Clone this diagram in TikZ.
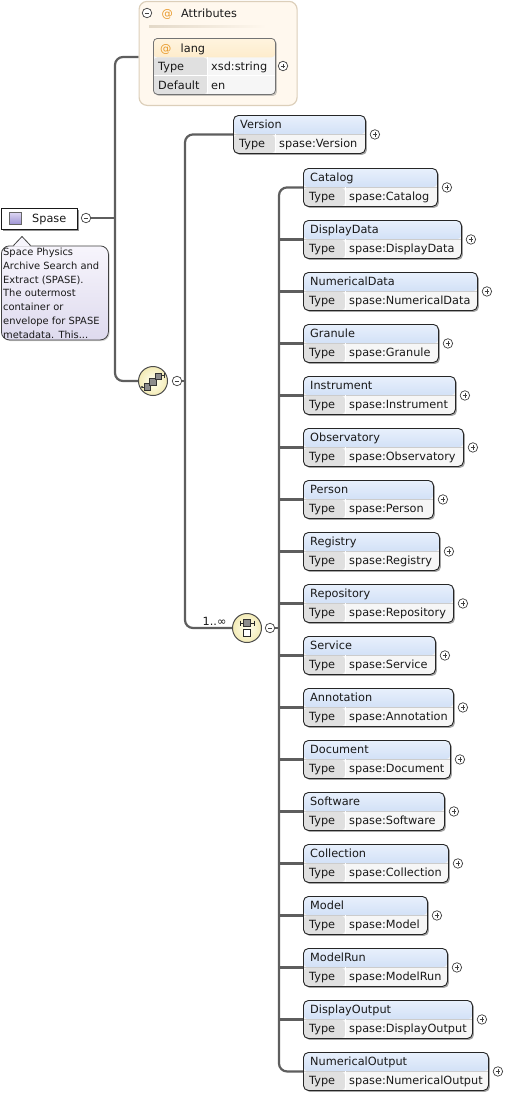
\documentclass[tikz,border=0pt]{standalone}
\usepackage{fontspec}
\setmainfont{DejaVu Sans}
\usetikzlibrary{shadows,calc}
\pgfdeclarelayer{background}
\pgfsetlayers{background,main}
\definecolor{hdrtop}{HTML}{E8F0FC}
\definecolor{hdrbot}{HTML}{BCD1F1}
\definecolor{typecell}{HTML}{E0E0E0}
\definecolor{valcell}{HTML}{F6F6F6}
\definecolor{conncol}{HTML}{5E5E5E}
\definecolor{attrfill}{HTML}{FFF8EE}
\definecolor{attrborder}{HTML}{DCCFBA}
\definecolor{langtop}{HTML}{FFF4DF}
\definecolor{langbot}{HTML}{FADCA4}
\definecolor{atsign}{HTML}{E89A2C}
\definecolor{anntop}{HTML}{F7F5FC}
\definecolor{annbot}{HTML}{DEDAEE}
\definecolor{icontop}{HTML}{DCD5F2}
\definecolor{iconbot}{HTML}{9C92D2}
\definecolor{cmptop}{HTML}{FFFFF2}
\definecolor{cmpbot}{HTML}{F3EBB5}
\begin{document}
\begin{tikzpicture}[x=1pt,y=-1pt,
  font=\fontsize{11.3pt}{13pt}\selectfont,
  conn/.style={draw=conncol, line width=2.2pt},
  txt/.style={anchor=base west, inner sep=0pt, text=black!90},
  elbox/.style={draw=black!85, line width=0.9pt, rounded corners=5pt, anchor=north west,
    minimum height=38pt, inner sep=0pt, fill=valcell,
    drop shadow={shadow xshift=1.5pt, shadow yshift=-1.5pt, opacity=0.5, fill=black!70},
    path picture={
      \shade[top color=hdrtop, bottom color=hdrbot] (path picture bounding box.north west) rectangle (path picture bounding box.east);
      \fill[typecell] (path picture bounding box.west) rectangle ([xshift=42pt]path picture bounding box.south west);
      \draw[black!20, line width=0.6pt] (path picture bounding box.west) -- (path picture bounding box.east);
      \draw[white, line width=0.8pt] ([xshift=42pt]path picture bounding box.west) -- ([xshift=42pt]path picture bounding box.south west);
    }},
  langbox/.style={draw=black!55, line width=0.8pt, rounded corners=4pt, anchor=north west,
    minimum width=122pt, minimum height=56pt, inner sep=0pt, fill=valcell,
    drop shadow={shadow xshift=1.5pt, shadow yshift=-1.5pt, opacity=0.35, fill=black!60},
    path picture={
      \shade[top color=langtop, bottom color=langbot] (path picture bounding box.north west) rectangle ([yshift=-19pt]path picture bounding box.north east);
      \fill[typecell] ([yshift=-19pt]path picture bounding box.north west) rectangle ([xshift=54pt]path picture bounding box.south west);
      \draw[white, line width=0.9pt] ([yshift=-37.5pt]path picture bounding box.north west) -- ([yshift=-37.5pt]path picture bounding box.north east);
      \draw[white, line width=0.9pt] ([xshift=54pt,yshift=-19pt]path picture bounding box.north west) -- ([xshift=54pt]path picture bounding box.south west);
    }},
  btn/.style={circle, draw=black!75, fill=white, minimum size=9.5pt, inner sep=0pt, line width=0.7pt},
  plusbtn/.style={btn, path picture={
      \draw[line width=0.7pt] ([xshift=-2.4pt]path picture bounding box.center) -- ([xshift=2.4pt]path picture bounding box.center);
      \draw[line width=0.7pt] ([yshift=-2.4pt]path picture bounding box.center) -- ([yshift=2.4pt]path picture bounding box.center);}},
  minusbtn/.style={btn, path picture={
      \draw[line width=0.7pt] ([xshift=-2.4pt]path picture bounding box.center) -- ([xshift=2.4pt]path picture bounding box.center);}},
  cmpicon/.style={circle, minimum size=29pt, inner sep=0pt, draw=black!70, line width=1pt,
    inner color=cmptop, outer color=cmpbot},
  atsym/.style={txt, text=atsign}
]
\useasboundingbox (0,0) rectangle (505,1095);

% ---------- Attributes ----------
\node[draw=attrborder, fill=attrfill, rounded corners=8pt, line width=1.2pt, anchor=north west,
  minimum width=158pt, minimum height=104pt, inner sep=0pt] (attrs) at (138.5,0.8) {};
\node[minusbtn] (attrmin) at (147,13) {};
\node[atsym] (attrat) at (161.5,17.5) {@};
\node[txt] (attrlbl) at (181,17.5) {Attributes};
\shade[left color=attrborder!80, right color=attrfill] (149,25) rectangle (266,27.5);
\node[langbox] (lang) at (153,38) {};
\node[atsym] (langat) at (160,52) {@};
\node[txt] (langlbl) at (180.5,52) {lang};
\node[txt] at (158,70.5) {Type};
\node[txt] at (211,70.5) {xsd:string};
\node[txt] at (158,89) {Default};
\node[txt] at (211,89) {en};
\node[plusbtn] (langplus) at (283,66) {};
\coordinate (attrin) at (138.5,57);

% ---------- Spase ----------
\node[draw=black!90, fill=white, line width=0.9pt, anchor=north west, minimum width=76pt,
  minimum height=21pt, inner sep=0pt,
  drop shadow={shadow xshift=1.8pt, shadow yshift=-1.8pt, opacity=0.6, fill=black!70}] (spase) at (1,208) {};
\node[draw=black!60, line width=0.6pt, top color=icontop, bottom color=iconbot, minimum size=12pt, inner sep=0pt] (spicon) at (15.5,218.5) {};
\node[txt] (splbl) at (32,222.5) {Spase};
\node[minusbtn] (spmin) at (86,218) {};

% annotation
\node[draw=black!75, line width=0.8pt, rounded corners=8pt, top color=anntop, bottom color=annbot,
  anchor=north west, minimum width=107pt, minimum height=94pt, inner sep=0pt,
  drop shadow={shadow xshift=1.2pt, shadow yshift=-1.2pt, opacity=0.3, fill=black!60}] (ann) at (1,245.5) {};
\fill[anntop] (13.5,246.6) -- (22,236.5) -- (30.5,246.6) -- cycle;
\draw[black!75, line width=0.8pt, line join=round] (13.5,245.5) -- (22,236.5) -- (30.5,245.5);
\node[anchor=north west, inner sep=0pt, align=left, text=black!90,
  font=\fontsize{9.9pt}{13.8pt}\selectfont] (anntext) at (3,247.8) {Space Physics\\Archive Search and\\Extract (SPASE).\\The outermost\\container or\\envelope for SPASE\\metadata. This...};

% ---------- Sequence ----------
\node[cmpicon] (seq) at (153,381) {};
\begin{scope}[line width=0.6pt]
  \draw[black!80] (142,387) -- (146,387);
  \fill[black!80] (142,387) circle (1.1pt);
  \draw[black!80] (160,375.5) -- (164.5,375.5);
  \draw[black!80] (164.5,373) -- (164.5,378);
  \draw[black!80, fill=black!45] (144,383.5) rectangle (150.5,390);
  \draw[black!80, fill=black!45] (149.5,378.5) rectangle (156,385);
  \draw[black!80, fill=black!45] (155,373) rectangle (161.5,379.5);
\end{scope}
\node[minusbtn] (seqmin) at (177,381) {};

% ---------- Version ----------
\node[elbox, minimum width=132pt] (ver) at (233,115) {};
\node[txt] at ([shift={(7,-5.5)}]ver.west) {Version};
\node[txt] at ([shift={(6,13.5)}]ver.west) {Type};
\node[txt] at ([shift={(46,13.5)}]ver.west) {spase:Version};
\node[plusbtn] (verplus) at ([xshift=9pt]ver.east) {};

% ---------- Choice ----------
\node[cmpicon] (choice) at (247,628) {};
\begin{scope}[line width=0.7pt]
  \draw[black!85] (240,623) -- (254,623);
  \draw[black!85] (240,620.5) -- (240,625.5);
  \draw[black!85] (254,620.5) -- (254,625.5);
  \draw[black!80, fill=black!45] (243.5,619.5) rectangle (250.5,626.5);
  \draw[black!85, fill=white] (243.5,629.5) rectangle (250.5,636.5);
\end{scope}
\node[minusbtn] (chmin) at (270,628) {};
\node[txt] (card) at (202.5,625.5) {1..∞};

\foreach \nm/\w [count=\i] in {Catalog/134, DisplayData/158, NumericalData/174, Granule/135,
  Instrument/152, Observatory/160, Person/130, Registry/136, Repository/150, Service/132,
  Annotation/150, Document/147, Software/141, Collection/145, Model/124, ModelRun/144,
  DisplayOutput/169, NumericalOutput/185} {
  \node[elbox, minimum width=\w pt] (e\i) at (303,{168+52*(\i-1)}) {};
  \node[txt] at ([shift={(7,-5.5)}]e\i.west) {\nm};
  \node[txt] at ([shift={(6,13.5)}]e\i.west) {Type};
  \node[txt] at ([shift={(46,13.5)}]e\i.west) {spase:\nm};
  \node[plusbtn] (p\i) at ([xshift=9pt]e\i.east) {};
}

% ---------- Connectors ----------
\coordinate (t1) at (115,0);
\coordinate (t2) at (185,0);
\coordinate (t3) at (279,0);
\begin{pgfonlayer}{background}
  \draw[conn, rounded corners=8pt] (attrin) -| (t1 |- seq.west) -- (seq.west);
  \draw[conn] (spmin.east) -- (spmin.east -| t1);
  \draw[conn, rounded corners=8pt] (ver.west) -| (t2 |- choice.west) -- (choice.west);
  \draw[conn] (seqmin.east) -- (seqmin.east -| t2);
  \draw[conn, rounded corners=8pt] (e1.west) -| (t3 |- e18.west) -- (e18.west);
  \foreach \i in {2,...,17} {
    \draw[conn] (e\i.west -| t3) -- (e\i.west);
  }
  \draw[conn] (chmin.east) -- (chmin.east -| t3);
\end{pgfonlayer}
\end{tikzpicture}
\end{document}
